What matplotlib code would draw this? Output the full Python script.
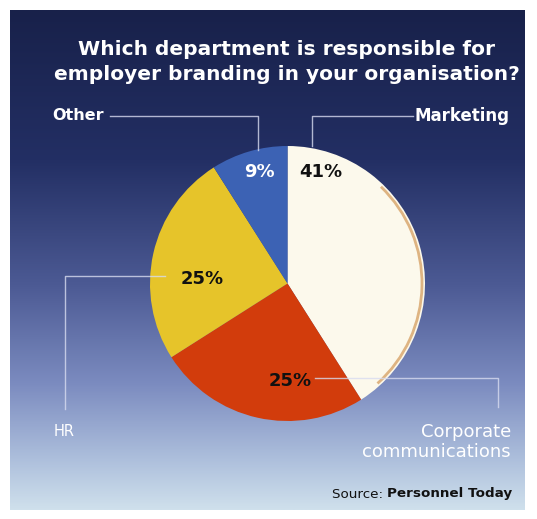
import numpy as np
import matplotlib
matplotlib.use("Agg")
import matplotlib.pyplot as plt
from matplotlib.colors import LinearSegmentedColormap
from matplotlib.patches import Arc

plt.rcParams['font.family'] = ['DejaVu Sans']

# survey answers, clockwise from 12 o'clock
departments = ["Marketing", "Corporate\ncommunications", "HR", "Other"]
shares = [41, 25, 25, 9]
slice_colors = ["#fcf9ec", "#d23c0c", "#e6c42a", "#3c62b4"]
pct_colors = ["#111111", "#111111", "#111111", "#ffffff"]

title = "Which department is responsible for\nemployer branding in your organisation?"
source_lead = "Source: "
source_name = "Personnel Today"

W, H = 537, 519
fig = plt.figure(figsize=(W / 100, H / 100), dpi=100)
fig.patch.set_facecolor("white")
ax = fig.add_axes([0, 0, 1, 1])

# navy to pale blue backdrop
bg = LinearSegmentedColormap.from_list(
    "bg", [(0.0, "#18214a"), (0.3, "#232f64"), (0.55, "#4c5a94"),
           (0.75, "#7c8cc0"), (0.9, "#adbfdc"), (1.0, "#cfe0ec")])
grad = np.linspace(0, 1, 256)[:, None]
ax.imshow(grad, cmap=bg, extent=(10, 525, 510, 10), aspect="auto", zorder=0)

cx, cy, r = 287.5, 283.5, 137.5
wedges, _ = ax.pie(shares, colors=slice_colors, startangle=270, counterclock=True,
                   center=(cx, cy), radius=r, wedgeprops=dict(linewidth=0))
for w in wedges:
    w.set_zorder(2)

# tan rim just inside the right side of the marketing slice
ax.add_patch(Arc((cx, cy), 2 * (r - 3), 2 * (r - 3), theta1=-46, theta2=48,
                 color="#deb482", lw=2, zorder=3))

# percentage labels
pct_pos = [(321, 172), (290, 381), (202, 279), (259, 172)]
for val, (x, y), c in zip(shares, pct_pos, pct_colors):
    ax.text(x, y, f"{val}%", ha="center", va="center", fontsize=13,
            fontweight="bold", color=c, zorder=4)

# leader lines
line_kw = dict(color="#d8dcf0", lw=1, alpha=0.8, zorder=3)
ax.plot([312, 312, 413], [146, 116, 116], **line_kw)
ax.plot([110, 258, 258], [116, 116, 150], **line_kw)
ax.plot([165, 65, 65], [276, 276, 409], **line_kw)
ax.plot([315, 498, 498], [378, 378, 407], **line_kw)

ax.text(415, 116, departments[0], ha="left", va="center", fontsize=12,
        fontweight="bold", color="white", zorder=4)
ax.text(52, 116, departments[3], ha="left", va="center", fontsize=11.5,
        fontweight="bold", color="white", zorder=4)
ax.text(54, 431, departments[2], ha="left", va="center", fontsize=10.5,
        color="white", zorder=4)
ax.text(511, 442, departments[1], ha="right", va="center", fontsize=13,
        color="white", linespacing=1.15, zorder=4)

ax.text(287, 62, title, ha="center", va="center", fontsize=14.5,
        fontweight="bold", color="white", linespacing=1.35, zorder=4)

src = ax.text(512, 494, source_name, ha="right", va="center", fontsize=9.7,
              fontweight="bold", color="#111111", zorder=4)
ax.annotate(source_lead, xy=(0, 0.5), xycoords=src, ha="right", va="center",
            fontsize=9.7, color="#111111", zorder=4)

ax.set_xlim(0, W)
ax.set_ylim(H, 0)
ax.set_aspect("equal")
ax.axis("off")

fig.savefig("out.png", dpi=100, facecolor=fig.get_facecolor())
